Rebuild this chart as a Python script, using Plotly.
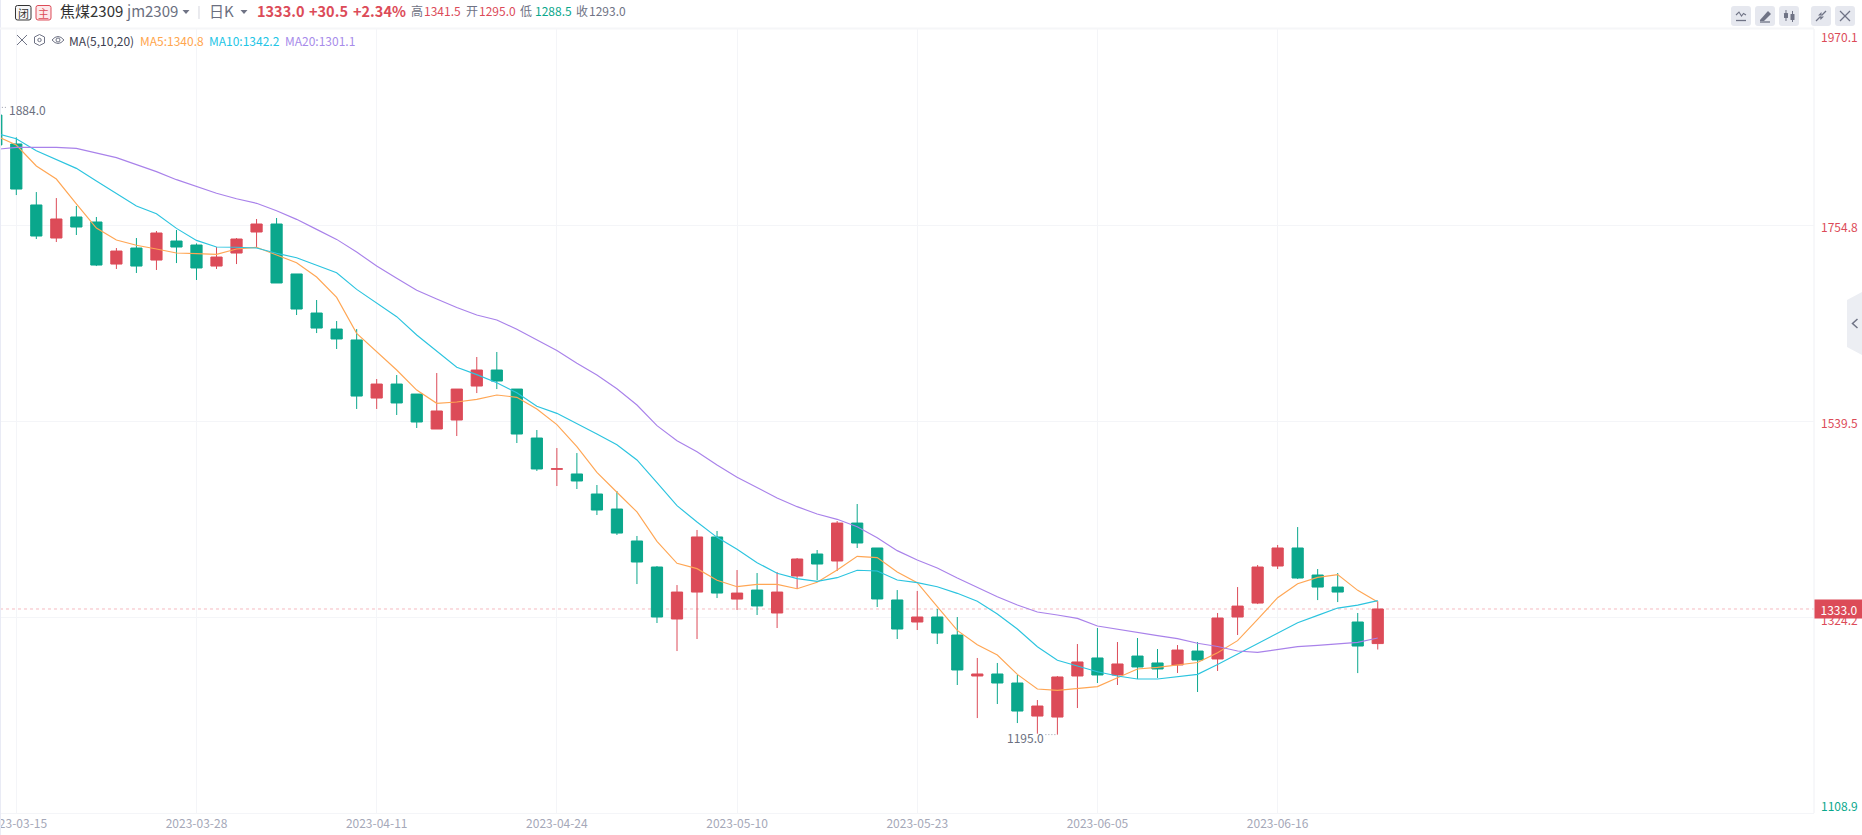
import plotly.graph_objects as go

# ---------- data ----------
opens = [1875.6,1843.8,1776.8,1740.5,1763.6,1758.1,1711.9,1729.5,1716.3,1737.2,
         1732.8,1709.7,1724.0,1747.1,1755.9,1701.0,1658.1,1640.5,1628.5,1564.7,
         1580.1,1569.1,1530.7,1540.6,1577.9,1595.5,1574.6,1520.8,1486.5,1481.3,
         1459.3,1442.8,1407.7,1379.1,1322.0,1351.6,1412.1,1343.9,1353.8,1328.6,
         1369.2,1393.4,1385.7,1427.4,1400.0,1342.9,1318.7,1324.2,1304.4,1259.4,
         1261.6,1251.7,1215.4,1214.3,1259.4,1279.2,1260.5,1281.3,1273.7,1271.5,
         1286.8,1278.1,1324.2,1339.5,1380.2,1400.0,1370.3,1357.1,1318.7,1295.0]
highs = [1884.0,1851.1,1791.0,1784.4,1775.7,1763.6,1729.5,1740.5,1748.2,1749.3,
         1734.6,1730.6,1740.5,1761.4,1762.5,1701.0,1672.4,1649.3,1640.5,1585.6,
         1590.0,1569.1,1592.2,1574.6,1609.8,1615.3,1574.6,1529.6,1509.8,1504.3,
         1469.2,1462.6,1413.2,1380.2,1359.3,1419.8,1418.7,1375.8,1372.5,1373.6,
         1389.0,1397.8,1429.6,1448.3,1400.0,1353.8,1352.8,1333.0,1324.2,1279.2,
         1273.7,1260.5,1233.0,1259.4,1294.5,1312.1,1296.7,1301.1,1289.0,1293.4,
         1296.7,1328.6,1357.1,1381.3,1403.3,1423.0,1376.9,1372.5,1328.6,1341.5]
lows = [1840.0,1787.7,1739.4,1736.1,1743.8,1709.7,1706.5,1702.1,1705.4,1713.0,
        1694.4,1706.5,1711.9,1730.6,1691.1,1655.9,1636.1,1618.6,1552.7,1552.7,
        1546.1,1531.8,1530.7,1523.0,1570.2,1574.6,1515.3,1484.6,1468.1,1464.8,
        1436.2,1414.3,1360.4,1317.6,1286.8,1300.0,1345.0,1331.9,1326.4,1312.1,
        1354.9,1364.8,1374.7,1400.0,1335.2,1300.0,1309.9,1294.5,1249.5,1213.2,
        1228.6,1207.7,1196.0,1195.0,1224.2,1251.7,1249.5,1256.1,1257.2,1262.7,
        1241.8,1264.9,1304.4,1338.4,1376.9,1365.9,1342.8,1340.6,1262.6,1288.5]
closes = [1842.7,1794.3,1742.7,1761.4,1752.6,1710.8,1726.2,1709.7,1746.0,1730.6,
          1707.6,1719.6,1739.4,1755.9,1691.1,1662.5,1641.6,1629.6,1566.9,1580.1,
          1559.3,1538.4,1550.5,1574.6,1595.5,1583.4,1525.2,1486.8,1487.0,1473.6,
          1441.7,1416.4,1384.6,1324.2,1351.6,1412.1,1350.5,1350.5,1336.3,1351.6,
          1387.9,1382.4,1427.4,1405.5,1344.0,1311.0,1324.2,1306.6,1266.0,1261.6,
          1251.7,1220.9,1226.4,1258.3,1274.8,1260.5,1272.6,1269.3,1267.1,1287.9,
          1277.0,1323.1,1336.2,1379.1,1400.0,1367.0,1357.1,1351.6,1292.3,1333.0]
ma5 = [1852.5,1842.7,1819.6,1805.3,1777.9,1751.5,1738.3,1732.5,1728.4,1724.0,
       1723.3,1722.6,1728.4,1730.3,1721.8,1713.4,1697.7,1675.3,1635.8,1615.6,
       1595.5,1573.5,1558.9,1560.4,1563.3,1568.1,1565.5,1552.7,1535.5,1511.3,
       1483.1,1461.2,1439.6,1407.3,1383.2,1377.3,1364.5,1357.5,1360.1,1360.1,
       1355.3,1362.3,1375.8,1390.8,1389.4,1373.6,1361.9,1335.5,1309.5,1293.8,
       1282.4,1261.2,1245.1,1243.6,1245.8,1247.7,1257.5,1267.1,1268.9,1271.5,
       1274.2,1285.0,1298.2,1321.6,1345.4,1360.8,1367.7,1370.7,1353.5,1340.8]
ma10 = [1855.5,1849.6,1836.4,1826.9,1817.0,1803.1,1789.6,1775.7,1767.2,1751.1,
        1737.9,1730.6,1730.3,1729.5,1723.7,1718.9,1710.5,1702.4,1684.1,1669.5,
        1654.1,1634.0,1616.0,1598.6,1590.4,1581.6,1570.6,1555.6,1547.9,1537.0,
        1525.2,1513.5,1496.7,1471.8,1446.5,1428.6,1411.7,1398.5,1383.9,1372.2,
        1366.3,1363.4,1367.4,1375.5,1374.7,1364.8,1361.9,1357.5,1350.2,1341.4,
        1327.5,1311.0,1291.6,1276.6,1270.0,1264.1,1259.4,1256.1,1256.1,1258.6,
        1261.2,1272.0,1283.5,1295.2,1307.3,1317.9,1326.0,1334.0,1337.3,1342.2]
ma20 = [1837.9,1840.1,1840.1,1840.1,1839.0,1833.5,1828.8,1821.1,1813.4,1804.6,
        1796.9,1789.6,1783.7,1778.6,1770.5,1761.0,1750.0,1739.0,1725.1,1709.7,
        1696.2,1683.0,1673.5,1664.1,1655.9,1650.4,1640.2,1628.5,1617.0,1602.9,
        1590.0,1575.0,1557.1,1534.4,1517.9,1505.8,1491.2,1477.6,1466.7,1455.0,
        1445.4,1437.3,1431.5,1423.4,1411.3,1397.1,1386.8,1378.0,1367.0,1356.4,
        1346.5,1337.4,1329.7,1326.4,1322.7,1314.3,1310.6,1307.0,1303.7,1300.4,
        1295.3,1291.8,1286.8,1285.3,1288.6,1291.6,1293.0,1294.9,1296.3,1301.1]
date_positions = [1, 10, 19, 28, 37, 46, 55, 64]
date_labels = ["2023-03-15","2023-03-28","2023-04-11","2023-04-24",
               "2023-05-10","2023-05-23","2023-06-05","2023-06-16"]
price_ticks = [1970.1, 1754.8, 1539.5, 1324.2, 1108.9]
last_price = 1333.0
peak_price = 1884.0
trough_price = 1195.0

# ---------- style ----------
W, H = 1862, 835
PL, PR, PT, PB = 0, 1814, 29, 813
FONT = "Noto Sans CJK SC"
RED, GREEN = "#dc4b58", "#0aa78c"
ORANGE, CYAN, PURPLE = "#ffa654", "#2cc4df", "#a982ea"
GRID = "#f4f5f8"
GREY = "#6f7385"

def fx(px): return (px - PL) / (PR - PL)
def fy(py): return (PB - py) / (PB - PT)
def path(d):
    """d: list of tokens; tuples are pixel points."""
    out = []
    for t in d:
        out.append(f"{fx(t[0]):.5f},{fy(t[1]):.5f}" if isinstance(t, tuple) else t)
    return " ".join(out)
def shape_path(d, fill=None, line=None, lw=1):
    return dict(type="path", xref="paper", yref="paper", path=path(d), layer="above",
                fillcolor=fill or "rgba(0,0,0,0)",
                line=dict(color=line or "rgba(0,0,0,0)", width=lw if line else 0))
def rrect(x0, y0, x1, y1, r, fill=None, line=None, lw=1):
    return shape_path(["M", (x0 + r, y0), "L", (x1 - r, y0), "Q", (x1, y0), (x1, y0 + r),
                       "L", (x1, y1 - r), "Q", (x1, y1), (x1 - r, y1),
                       "L", (x0 + r, y1), "Q", (x0, y1), (x0, y1 - r),
                       "L", (x0, y0 + r), "Q", (x0, y0), (x0 + r, y0), "Z"], fill, line, lw)
def seg(*pts, line=GREY, lw=1.3):
    d = ["M", pts[0]]
    for p in pts[1:]:
        d += ["L", p]
    return shape_path(d, None, line, lw)
def tri(x, y):
    return shape_path(["M", (x - 3.5, y - 2), "L", (x + 3.5, y - 2), "L", (x, y + 2), "Z"], GREY)
def txt(px, py, s, size=12, color="#333", anchor="left", weight=None):
    return dict(xref="paper", yref="paper", x=fx(px), y=fy(py), text=s, showarrow=False,
                xanchor=anchor, yanchor="middle", borderpad=0,
                font=dict(family=FONT, size=size, color=color, weight=weight or 400))

fig = go.Figure()
xs = list(range(len(closes)))
fig.add_trace(go.Candlestick(
    x=xs, open=opens, high=highs, low=lows, close=closes, whiskerwidth=0,
    increasing=dict(line=dict(color=RED, width=1), fillcolor=RED),
    decreasing=dict(line=dict(color=GREEN, width=1), fillcolor=GREEN),
    showlegend=False, hoverinfo="skip"))
for name, vals, col in (("MA5", ma5, ORANGE), ("MA10", ma10, CYAN), ("MA20", ma20, PURPLE)):
    fig.add_trace(go.Scatter(x=xs, y=vals, mode="lines", name=name,
                             line=dict(color=col, width=1.15), showlegend=False, hoverinfo="skip"))

shapes = [
    dict(type="line", xref="paper", yref="y", x0=0, x1=1, y0=last_price, y1=last_price,
         layer="below", line=dict(color="#f6bcc1", width=1, dash="3px,3px")),
    # leader dots for the extreme labels
    dict(type="line", xref="x", yref="y", x0=0.28, x1=0.53, y0=peak_price, y1=peak_price,
         line=dict(color="#9a9dab", width=1, dash="1px,2px")),
    dict(type="line", xref="x", yref="y", x0=52.4, x1=53, y0=trough_price, y1=trough_price,
         line=dict(color="#9a9dab", width=1, dash="1px,2px")),
    # frame
    dict(type="line", xref="paper", yref="paper", x0=1, x1=1, y0=0, y1=1, layer="below",
         line=dict(color="#eff0f4", width=1)),
    seg((0.5, 0), (0.5, H), line="#e9ebf5", lw=1),
    seg((0, 28.5), (PR, 28.5), line="#f5f6f8", lw=2),
    # header badges
    rrect(15.5, 5.5, 31, 20, 2, "#f7f7f8", "#333333", 1),
    rrect(36, 5.5, 51, 20, 2, "#fde9eb", RED, 1),
    tri(186, 12), seg((199, 6), (199, 19), line="#d5d7df", lw=1), tri(244, 12),
    # legend row icons
    seg((17, 35), (27, 45), lw=1), seg((27, 35), (17, 45), lw=1),
    shape_path(["M", (39.5, 34.5), "L", (44.5, 37), "L", (44.5, 43), "L", (39.5, 45.5),
                "L", (34.5, 43), "L", (34.5, 37), "Z"], None, GREY, 1),
    dict(type="circle", xref="paper", yref="paper", x0=fx(37.8), x1=fx(41.2), y0=fy(41.7), y1=fy(38.3),
         line=dict(color=GREY, width=1)),
    shape_path(["M", (52, 40), "Q", (58, 33), (64, 40), "Q", (58, 47), (52, 40), "Z"], None, GREY, 1),
    dict(type="circle", xref="paper", yref="paper", x0=fx(56), x1=fx(60), y0=fy(42), y1=fy(38),
         line=dict(color=GREY, width=1)),
    # toolbar
    rrect(1731, 6, 1751, 26, 3, "#e6e8ef"), rrect(1755, 6, 1775, 26, 3, "#e6e8ef"),
    rrect(1779, 6, 1799, 26, 3, "#e6e8ef"), rrect(1811, 6, 1831, 26, 3, "#e6e8ef"),
    rrect(1835, 6, 1855, 26, 3, "#e6e8ef"),
    seg((1736, 20.5), (1746, 20.5)),
    seg((1736, 15), (1739, 12), (1741.5, 16), (1743.5, 13.5), (1746, 15), lw=1.1),
    shape_path(["M", (1760, 20), "L", (1768, 11), "L", (1771, 14), "L", (1764, 21), "L", (1760, 21), "Z"], GREY),
    seg((1760, 22), (1770, 22)),
    rrect(1784, 13, 1788, 18, 0.5, GREY), seg((1786, 10), (1786, 21), lw=1),
    rrect(1790.5, 14, 1794.5, 20, 0.5, GREY), seg((1792.5, 11), (1792.5, 22), lw=1),
    seg((1816, 21), (1820.5, 16.5)), seg((1826, 11), (1821.5, 15.5)),
    shape_path(["M", (1818, 15.5), "L", (1821.5, 15.5), "L", (1821.5, 12), "Z"], GREY),
    shape_path(["M", (1820, 16.5), "L", (1820.5, 20), "L", (1824, 16.5), "Z"], GREY),
    seg((1840, 11), (1850, 21)), seg((1850, 11), (1840, 21)),
    # side tab
    shape_path(["M", (1862, 292), "L", (1847, 300), "L", (1847, 347), "L", (1862, 355), "Z"], "#eceef3"),
    seg((1857.5, 319), (1852.5, 323.5), (1857.5, 328), lw=1.5),
]

annotations = [
    txt(23.25, 12.7, "闭", 11, "#333333", "center"),
    txt(43.5, 12.7, "主", 11, RED, "center"),
    txt(59, 11, "焦煤2309", 15, "#333333"),
    txt(125, 11, "jm2309", 15, "#6b6f80"),
    txt(208, 11, "日K", 15, "#6b6f80"),
    txt(256, 11, "1333.0", 14.5, RED, weight=600),
    txt(308, 11, "+30.5", 14.5, RED, weight=600),
    txt(352, 11, "+2.34%", 14.5, RED, weight=600),
    txt(409.5, 11, "高", 12, GREY), txt(423, 11, "1341.5", 12, RED),
    txt(464.5, 11, "开", 12, GREY), txt(478, 11, "1295.0", 12, RED),
    txt(519, 11, "低", 12, GREY), txt(534, 11, "1288.5", 12, GREEN),
    txt(574.5, 11, "收", 12, GREY), txt(588, 11, "1293.0", 12, GREY),
    txt(68, 40, "MA(5,10,20)", 12, "#3c4050"),
    txt(139, 40, "MA5:1340.8", 12, "#ffa64d"),
    txt(208, 40, "MA10:1342.2", 12, "#22c5e6"),
    txt(284, 40, "MA20:1301.1", 12, "#a78bea"),
    dict(xref="x", yref="y", x=0.59, y=peak_price, yshift=-2.5, text="1884.0", showarrow=False,
         xanchor="left", yanchor="middle", borderpad=0, font=dict(family=FONT, size=12, color="#6b6f80")),
    dict(xref="x", yref="y", x=52.4, y=trough_price, yshift=-3, text="1195.0", showarrow=False,
         xanchor="right", yanchor="middle", borderpad=0, font=dict(family=FONT, size=12, color="#6b6f80")),
]
for v, shift, col in zip(price_ticks, (-7, -1.5, -1.5, -2.5, 8), (RED, RED, RED, RED, GREEN)):
    annotations.append(dict(xref="paper", yref="y", x=1, y=v, xshift=6, yshift=shift,
                            text=f"{v:.1f}", showarrow=False, xanchor="left", yanchor="middle",
                            borderpad=0, font=dict(family=FONT, size=12, color=col)))
annotations.append(dict(xref="paper", yref="y", x=1, y=last_price, text=f"{last_price:.1f}",
                        showarrow=False, xanchor="left", yanchor="middle", borderpad=0,
                        bgcolor=RED, width=48, height=18, align="center", valign="middle",
                        font=dict(family=FONT, size=12, color="#ffffff")))

fig.update_layout(
    width=W, height=H, paper_bgcolor="#ffffff", plot_bgcolor="#ffffff",
    margin=dict(l=PL, r=W - PR, t=PT, b=H - PB, pad=0, autoexpand=False),
    showlegend=False, boxgap=0.2, hovermode=False,
    font=dict(family=FONT, size=12),
    xaxis=dict(range=[0.186, 90.79], tickmode="array", tickvals=date_positions, ticktext=date_labels,
               automargin=False,
               showgrid=True, gridcolor=GRID, gridwidth=1, zeroline=False, showline=True, linecolor=GRID,
               ticks="", ticklabeloverflow="allow", rangeslider=dict(visible=False),
               tickfont=dict(family=FONT, size=12, color="#a5a8b8")),
    yaxis=dict(range=[1108.9, 1970.1], side="right", tickmode="array", tickvals=price_ticks,
               automargin=False,
               showticklabels=False, showgrid=True, gridcolor=GRID, gridwidth=1,
               zeroline=False, showline=False, ticks=""),
    shapes=shapes, annotations=annotations,
)
fig.write_html("out.html", config=dict(displayModeBar=False),
               post_script="document.body.style.margin='0';document.body.style.overflow='hidden';")
